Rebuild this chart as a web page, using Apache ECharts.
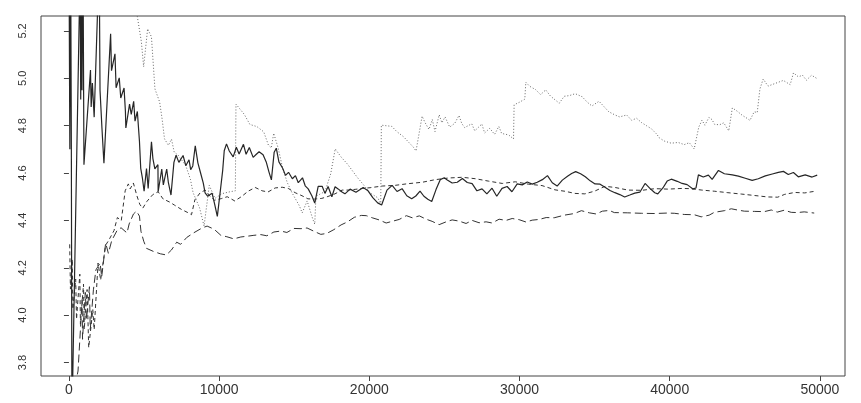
<!DOCTYPE html>
<html><head><meta charset="utf-8">
<script src="https://cdn.jsdelivr.net/npm/echarts@6/dist/echarts.min.js"></script>
<style>html,body{margin:0;padding:0;background:#fff}#c{width:861px;height:403px}</style>
</head><body><div id="c"></div>
<script>
// Tick values
const xTicks = [0, 10000, 20000, 30000, 40000, 50000];
const yTicks = [3.8, 4.0, 4.2, 4.4, 4.6, 4.8, 5.0, 5.2];

// Solid line (lty 1)
const solidLine = [
[0,5.6],[60,4.70],[110,5.6],[160,4.72],[200,3.55],[740,5.45],[785,4.91],[830,5.6],[870,4.95],[930,5.6],[1000,4.635],
[1435,5.035],[1480,4.879],[1560,4.98],[1680,4.836],[2015,5.5],[2070,4.949],[2195,4.793],[2330,4.641],[2775,5.188],
[2835,5.032],[3065,5.103],[3140,4.960],[3350,5.002],[3450,4.917],[3670,4.959],[3760,4.861],[3790,4.790],[4035,4.891],
[4150,4.848],[4310,4.903],[4400,4.819],[4555,4.860],[4695,4.734],[4780,4.620],[4895,4.577],[5005,4.523],[5165,4.619],
[5275,4.535],[5495,4.732],[5590,4.661],[5720,4.618],[5925,4.635],[5940,4.521],[6180,4.617],[6285,4.550],[6510,4.617],
[6615,4.562],[6795,4.507],[6990,4.645],[7135,4.675],[7320,4.645],[7600,4.674],[7780,4.631],[7995,4.656],[8105,4.614],
[8245,4.630],[8410,4.715],[8585,4.643],[8765,4.600],[8945,4.557],[9065,4.516],[9235,4.502],[9530,4.515],[9690,4.472],
[9880,4.417],[10060,4.514],[10235,4.610],[10340,4.694],[10490,4.723],[10675,4.693],[10935,4.668],[11145,4.709],
[11330,4.680],[11620,4.721],[11795,4.679],[12010,4.708],[12265,4.666],[12460,4.678],[12660,4.690],[12925,4.677],
[13135,4.647],[13315,4.605],[13480,4.571],[13665,4.688],[13805,4.705],[13980,4.647],[14230,4.620],[14420,4.590],
[14620,4.603],[14875,4.576],[15080,4.589],[15270,4.559],[15550,4.580],[15730,4.546],[15930,4.533],[16180,4.503],
[16365,4.473],[16595,4.544],[16860,4.544],[17045,4.514],[17255,4.543],[17505,4.500],[17720,4.542],[17920,4.533],
[18180,4.520],[18375,4.512],[18720,4.532],[19110,4.519],[19590,4.539],[19915,4.525],[20230,4.496],[20555,4.474],
[20820,4.465],[21175,4.528],[21520,4.548],[21845,4.522],[22180,4.534],[22495,4.504],[22820,4.491],[23095,4.503],
[23375,4.524],[23635,4.502],[23895,4.489],[24155,4.480],[24440,4.530],[24720,4.572],[24990,4.580],[25190,4.571],
[25515,4.558],[25855,4.561],[26195,4.577],[26520,4.560],[26845,4.555],[27165,4.525],[27505,4.533],[27825,4.512],
[28170,4.536],[28485,4.502],[28835,4.535],[29175,4.543],[29495,4.521],[29845,4.554],[30180,4.550],[30515,4.562],
[30845,4.553],[31180,4.561],[31520,4.572],[31860,4.589],[32180,4.559],[32505,4.545],[32850,4.570],[33195,4.586],
[33470,4.598],[33740,4.606],[34065,4.597],[34380,4.584],[34705,4.567],[35030,4.554],[35365,4.553],[35690,4.540],
[36025,4.526],[36350,4.517],[36675,4.509],[37000,4.499],[37340,4.507],[37675,4.515],[38010,4.519],[38360,4.556],
[38680,4.535],[39005,4.517],[39205,4.512],[39545,4.537],[39830,4.566],[40105,4.574],[40500,4.565],[40825,4.556],
[41160,4.551],[41550,4.533],[41750,4.537],[41910,4.592],[42235,4.583],[42575,4.591],[42825,4.573],[43245,4.611],
[43640,4.597],[44170,4.592],[44570,4.587],[45030,4.578],[45490,4.569],[45895,4.576],[46365,4.588],[46830,4.596],
[47235,4.603],[47570,4.607],[47895,4.594],[48235,4.602],[48560,4.584],[49020,4.592],[49480,4.583],[49820,4.591]
];

// Dotted line (lty 3)
const dottedLine = [
[4200,5.40],[4821,5.155],[4974,5.049],[5240,5.209],[5493,5.175],[5726,4.955],[6038,4.900],[6204,4.828],[6364,4.744],
[6623,4.717],[6830,4.743],[7009,4.688],[7275,4.675],[7780,4.631],[8086,4.574],[8266,4.517],[8698,4.453],[8997,4.376],
[9343,4.548],[9722,4.493],[10194,4.513],[10733,4.521],[11080,4.525],[11120,4.891],[11671,4.848],[12050,4.805],
[12516,4.796],[12968,4.774],[13280,4.718],[13473,4.706],[13633,4.768],[13932,4.705],[14231,4.620],[14536,4.560],
[14850,4.517],[15337,4.462],[15530,4.432],[15860,4.482],[16233,4.406],[16366,4.384],[16445,4.502],[17050,4.522],
[17430,4.597],[17729,4.702],[18116,4.668],[18554,4.637],[19206,4.581],[19591,4.552],[20043,4.516],[20575,4.495],
[20760,4.466],[20800,4.802],[21499,4.797],[21825,4.775],[22283,4.753],[22603,4.731],[22923,4.710],[23109,4.693],
[23514,4.840],[23700,4.814],[23972,4.784],[24193,4.826],[24372,4.775],[24652,4.846],[24830,4.812],[25043,4.837],
[25350,4.794],[25689,4.810],[25968,4.843],[26155,4.809],[26347,4.792],[26819,4.808],[27019,4.778],[27491,4.807],
[27677,4.769],[28016,4.789],[28342,4.763],[28622,4.797],[28808,4.767],[29274,4.761],[29600,4.744],[29640,4.888],
[29998,4.899],[30350,4.912],[30420,4.983],[30683,4.966],[31075,4.952],[31401,4.931],[31741,4.951],[32060,4.925],
[32386,4.908],[32645,4.895],[32977,4.924],[33323,4.927],[33709,4.935],[34174,4.922],[34493,4.900],[34819,4.883],
[35291,4.903],[35484,4.890],[35937,4.859],[36329,4.846],[36662,4.837],[37134,4.845],[37460,4.823],[37799,4.831],
[38125,4.813],[38451,4.800],[38777,4.787],[39122,4.765],[39315,4.748],[39641,4.735],[40100,4.726],[40565,4.729],
[40964,4.720],[41303,4.728],[41629,4.702],[41935,4.794],[42148,4.823],[42341,4.802],[42613,4.835],[42806,4.826],
[42999,4.805],[43331,4.804],[43597,4.812],[43930,4.778],[44169,4.875],[44495,4.861],[44821,4.844],[45147,4.831],
[45340,4.822],[45626,4.859],[45825,4.855],[46005,4.955],[46224,4.997],[46544,4.967],[46883,4.975],[47222,4.983],
[47562,4.991],[48020,4.973],[48239,5.023],[48565,5.006],[48838,5.013],[49104,4.992],[49443,5.013],[49775,5.000]
];

// Short-dash line (lty 2)
const shortDashLine = [
[50,4.299],[100,4.110],[220,4.236],[260,4.025],[450,4.152],[505,3.983],[725,4.173],[765,3.962],[970,4.131],[1020,3.940],
[1210,4.108],[1317,3.863],[1590,4.023],[1680,3.939],[1940,4.220],[2110,4.148],[2440,4.295],[2650,4.316],[3000,4.357],
[3225,4.412],[3485,4.399],[3745,4.525],[3955,4.554],[4075,4.533],[4290,4.558],[4530,4.503],[4715,4.468],[4910,4.451],
[5190,4.480],[5585,4.509],[5940,4.521],[6260,4.491],[6715,4.477],[7040,4.464],[7500,4.446],[7915,4.433],[8160,4.424],
[8385,4.487],[8730,4.516],[9065,4.528],[9390,4.502],[9680,4.485],[10150,4.492],[10540,4.500],[11045,4.482],[11520,4.502],
[11925,4.523],[12400,4.539],[12860,4.525],[13255,4.520],[13730,4.537],[14200,4.540],[14600,4.535],[15060,4.517],
[15520,4.504],[15910,4.491],[16370,4.490],[16840,4.493],[17245,4.501],[17710,4.512],[18190,4.528],[18590,4.528],
[19055,4.531],[19540,4.535],[20050,4.538],[20855,4.545],[21720,4.548],[22580,4.555],[23520,4.561],[24390,4.572],
[25270,4.579],[26195,4.582],[27060,4.576],[27920,4.566],[28850,4.556],[29715,4.563],[30580,4.553],[31500,4.547],
[32360,4.529],[33025,4.523],[33685,4.514],[34350,4.512],[35020,4.524],[35690,4.544],[36355,4.539],[37220,4.528],
[38150,4.527],[39015,4.534],[39880,4.532],[40815,4.535],[41350,4.534],[42140,4.528],[43000,4.523],[43870,4.517],
[44800,4.511],[45660,4.505],[46525,4.499],[47190,4.498],[47660,4.510],[48325,4.518],[48990,4.516],[49660,4.523]
];

// Long-dash line (lty 5)
const longDashLine = [
[400,3.70],[605,3.764],[880,4.066],[905,3.898],[1090,4.096],[1170,3.981],[1365,4.120],[1420,3.939],[1630,4.107],
[1795,4.191],[2075,4.220],[2180,4.161],[2445,4.304],[2625,4.261],[2850,4.315],[3200,4.357],[3470,4.369],[3865,4.347],
[4010,4.385],[4295,4.427],[4500,4.439],[4695,4.418],[4795,4.354],[4980,4.312],[5165,4.282],[5625,4.269],[6085,4.259],
[6485,4.254],[6825,4.275],[7175,4.308],[7435,4.299],[7845,4.328],[8320,4.348],[8865,4.368],[9200,4.376],[9660,4.363],
[10115,4.337],[10515,4.331],[10975,4.322],[11445,4.330],[11845,4.333],[12315,4.337],[12775,4.340],[13175,4.335],
[13645,4.351],[14115,4.355],[14510,4.349],[14985,4.366],[15450,4.365],[15855,4.368],[16315,4.354],[16770,4.341],
[17170,4.345],[17640,4.361],[18120,4.381],[18525,4.393],[19000,4.413],[19465,4.421],[19800,4.420],[20195,4.411],
[20655,4.402],[21120,4.389],[21520,4.396],[21990,4.404],[22465,4.420],[22860,4.411],[23330,4.419],[23785,4.405],
[24180,4.396],[24645,4.382],[25115,4.394],[25515,4.402],[25980,4.397],[26440,4.387],[26845,4.400],[27305,4.390],
[27775,4.394],[28170,4.389],[28640,4.405],[29105,4.400],[29510,4.408],[29975,4.403],[30435,4.393],[30840,4.401],
[31310,4.404],[31775,4.412],[32305,4.411],[32975,4.422],[33650,4.429],[34120,4.441],[34645,4.432],[35110,4.427],
[35515,4.439],[35985,4.442],[36310,4.433],[37175,4.432],[38105,4.430],[38970,4.429],[39840,4.431],[40305,4.430],
[40965,4.425],[41630,4.424],[42095,4.415],[42625,4.422],[42965,4.434],[43635,4.441],[44100,4.449],[44500,4.444],
[44965,4.439],[45630,4.438],[46295,4.437],[46760,4.444],[47160,4.435],[47625,4.443],[48090,4.434],[48490,4.433],
[48955,4.436],[49620,4.431]
];

const chart = echarts.init(document.getElementById('c'), null, {renderer: 'canvas'});
const mk = (data, color, width, type) => ({
  type: 'line', data: data, showSymbol: false, symbol: 'none', clip: true,
  lineStyle: {color: color, width: width, type: type}, silent: true
});
chart.setOption({
  animation: false,
  backgroundColor: '#ffffff',
  grid: {left: 41, right: 16, top: 16, bottom: 27, show: true, borderColor: '#444', borderWidth: 1, containLabel: false},
  xAxis: {
    type: 'value', min: -1860, max: 51670,
    splitLine: {show: false}, axisLine: {show: false},
    axisTick: {show: true, inside: false, length: 5, customValues: xTicks, lineStyle: {color: '#444'}},
    axisLabel: {customValues: xTicks, margin: 7, fontSize: 14, color: '#333',
      fontFamily: 'Liberation Sans, Arial, sans-serif', formatter: v => String(Math.round(v))}
  },
  yAxis: {
    type: 'value', min: 3.743, max: 5.263,
    splitLine: {show: false}, axisLine: {show: false},
    axisTick: {show: true, inside: false, length: 5, customValues: yTicks, lineStyle: {color: '#444'}},
    axisLabel: {customValues: yTicks, rotate: 90, margin: 13, fontSize: 11, color: '#333',
      fontFamily: 'Liberation Sans, Arial, sans-serif', formatter: v => Number(v).toFixed(1)}
  },
  series: [
    mk(longDashLine, '#333', 1, [8, 4]),
    mk(shortDashLine, '#333', 1, [4, 3]),
    mk(dottedLine, '#666', 1, [1, 2]),
    mk(solidLine, '#262626', 1.2, 'solid')
  ]
});
</script>
</body></html>
